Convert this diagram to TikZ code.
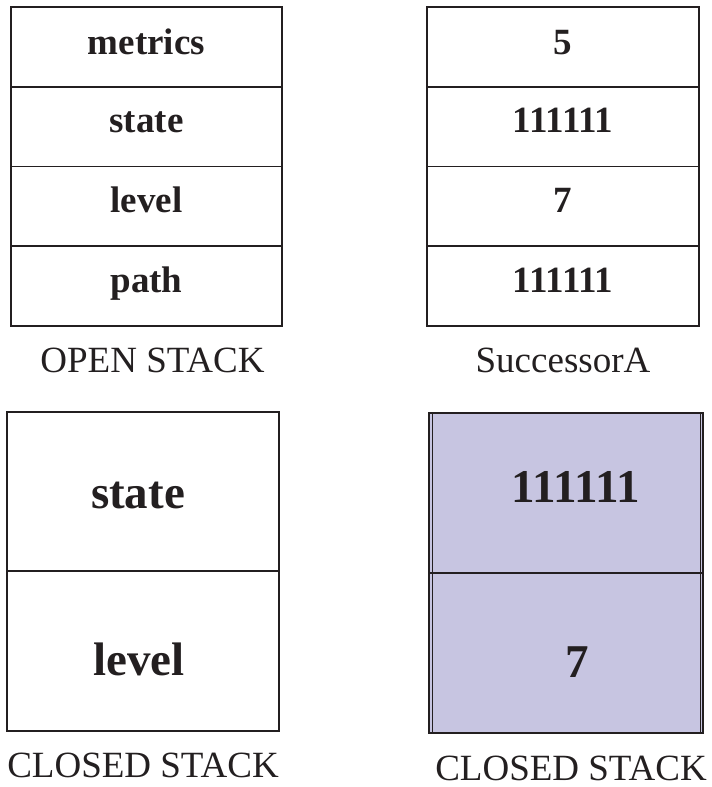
\documentclass[tikz,border=0pt]{standalone}
\usepackage{fontspec}
\setmainfont{Liberation Serif}
\usetikzlibrary{calc}
\definecolor{ink}{RGB}{35,31,32}
\definecolor{lilac}{RGB}{199,197,225}
\tikzset{
  cell/.style={draw=ink, line width=1.5pt, inner sep=0pt, outer sep=0pt},
  small/.style={anchor=base, inner sep=0pt, text=ink, font=\fontsize{37}{40}\selectfont\bfseries},
  big/.style={anchor=base, inner sep=0pt, text=ink, font=\fontsize{47}{50}\selectfont\bfseries},
  caption/.style={anchor=base, inner sep=0pt, text=ink, font=\fontsize{37}{40}\selectfont},
}
\begin{document}
\begin{tikzpicture}[x=1pt,y=-1pt]
\useasboundingbox (0,0) rectangle (712,787);

% open stack
\foreach \n/\y in {o1/47, o2/126.75, o3/206.25, o4/286}
  \node[cell, minimum width=271pt, minimum height=79.75pt] (\n) at (146.5,\y) {};
\node[small] at ($(o1.center)+(0,7)$) {metrics};
\node[small] at ($(o2.center)+(0,6)$) {state};
\node[small] at ($(o3.center)+(0,6.5)$) {level};
\node[small] at ($(o4.center)+(0,6)$) {path};
\node[caption] (openlbl) at (152.5,372) {OPEN STACK};

% successor A
\foreach \n/\y in {s1/47, s2/126.75, s3/206.25, s4/286}
  \node[cell, minimum width=272pt, minimum height=79.75pt] (\n) at (563,\y) {};
\node[small] at ($(s1.center)+(0,7)$) {5};
\node[small] at ($(s2.center)+(0,6)$) {111111};
\node[small] at ($(s3.center)+(0,6.5)$) {7};
\node[small] at ($(s4.center)+(0,6)$) {111111};
\node[caption] (succlbl) at (563,372) {SuccessorA};

% closed stack, field names
\node[cell, minimum width=272pt, minimum height=159pt] (c1) at (143,491.5) {};
\node[cell, minimum width=272pt, minimum height=160pt] (c2) at (143,651) {};
\node[big] at ($(c1.center)+(-5,16.5)$) {state};
\node[big] at ($(c2.center)+(-4,24)$) {level};
\node[caption] (closedlbl) at (143,777) {CLOSED STACK};

% closed stack, values
\node[cell, fill=lilac, minimum width=274pt, minimum height=160pt] (v1) at (566,493) {};
\node[cell, fill=lilac, minimum width=274pt, minimum height=160pt] (v2) at (566,653) {};
\draw[ink, line width=1pt] ($(v1.north west)+(3,0)$) -- ($(v2.south west)+(3,0)$);
\draw[ink, line width=1pt] ($(v1.north east)+(-3,0)$) -- ($(v2.south east)+(-3,0)$);
\node[big] at ($(v1.center)+(9.5,9)$) {111111};
\node[big] at ($(v2.center)+(11,24)$) {7};
\node[caption] (closedlbl2) at (571,780) {CLOSED STACK};
\end{tikzpicture}
\end{document}
